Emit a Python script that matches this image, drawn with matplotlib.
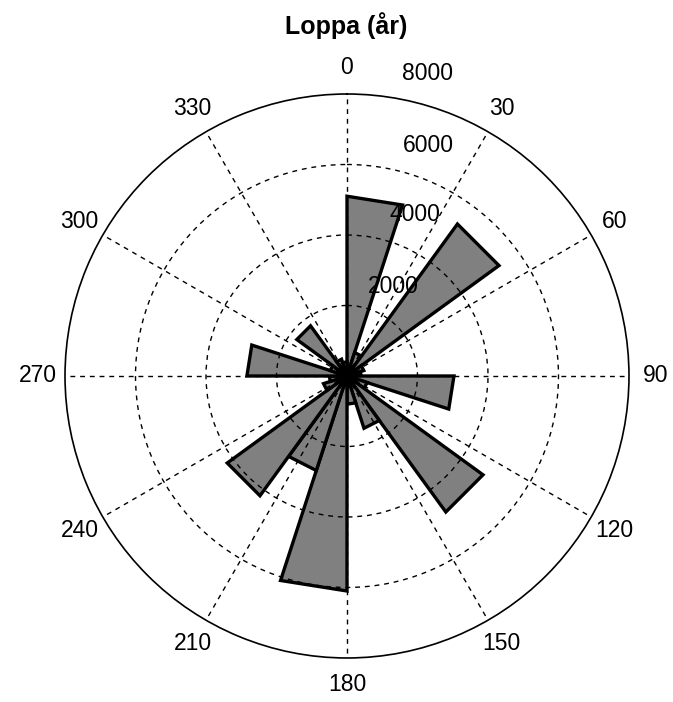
import numpy as np
import matplotlib
matplotlib.use("Agg")
import matplotlib.pyplot as plt

# Data: rose histogram, 20 bins of 18 degrees (compass, clockwise from north)
bin_starts_deg = list(range(0, 360, 18))
counts = [5100, 700, 5330, 500, 400, 3035, 600, 4770, 1560, 800,
          6100, 2820, 4200, 700, 500, 2840, 500, 1760, 500, 400]
theta_ticks = [0, 30, 60, 90, 120, 150, 180, 210, 240, 270, 300, 330]
r_ticks = [2000, 4000, 6000, 8000]
title = "Loppa (år)"
rmax = 8000

FONT = ["Liberation Sans", "DejaVu Sans"]

fig = plt.figure(figsize=(6.73, 7.02), dpi=100)
ax = fig.add_axes([0.0966, 0.0627, 0.838, 0.8034], projection="polar")
ax.set_theta_zero_location("N")
ax.set_theta_direction(-1)
ax.set_ylim(0, rmax)
ax.set_facecolor("white")
ax.set_axisbelow(False)

# grid
ax.set_xticks(np.deg2rad(theta_ticks))
ax.set_xticklabels([])
ax.set_yticks(r_ticks[:-1])
ax.set_yticklabels([])
ax.grid(True, color="black", linestyle=(0, (3.5, 3.5)), linewidth=1.0)
ax.spines["polar"].set_color("black")
ax.spines["polar"].set_linewidth(1.2)
ax.tick_params(length=0)

# rose wedges (triangles as in MATLAB rose)
w = 18
for s, c in zip(bin_starts_deg, counts):
    th = np.deg2rad([s, s, s + w, s])
    rr = [0, c, c, 0]
    ax.fill(th, rr, facecolor="#808080", edgecolor="black", linewidth=2.4, zorder=1)

# theta labels
for t in theta_ticks:
    ax.text(np.deg2rad(t), rmax * 1.095, str(t), ha="center", va="center",
            fontsize=16.5, family=FONT, clip_on=False)

# radial labels (placed as in MATLAB polar)
rlab_theta = [27.1, 22.8, 19.4, 15.0]
rlab_r = [2865, 4985, 6920, 8870]
for t, r, v in zip(rlab_theta, rlab_r, r_ticks):
    ax.text(np.deg2rad(t), r, str(v), ha="center", va="center",
            fontsize=16.5, family=FONT, clip_on=False, zorder=4)

fig.text(0.514, 0.963, title, ha="center", va="center", fontsize=18,
         fontweight="bold", family=FONT)

fig.savefig("out.png", dpi=100)
